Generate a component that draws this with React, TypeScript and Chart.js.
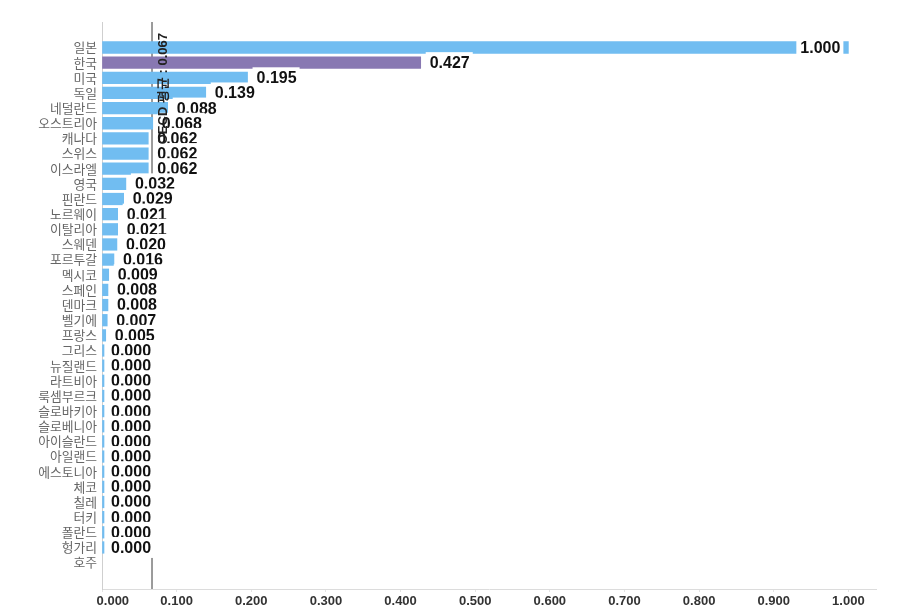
import React, { useEffect, useRef } from "react";
import { Chart, registerables } from "chart.js";

Chart.register(...registerables);

const categories: string[] = [
  "일본", "한국", "미국", "독일", "네덜란드", "오스트리아", "캐나다", "스위스", "이스라엘",
  "영국", "핀란드", "노르웨이", "이탈리아", "스웨덴", "포르투갈", "멕시코", "스페인", "덴마크",
  "벨기에", "프랑스", "그리스", "뉴질랜드", "라트비아", "룩셈부르크", "슬로바키아", "슬로베니아",
  "아이슬란드", "아일랜드", "에스토니아", "체코", "칠레", "터키", "폴란드", "헝가리", "호주",
];

const values: (number | null)[] = [
  1.0, 0.427, 0.195, 0.139, 0.088, 0.068, 0.062, 0.062, 0.062,
  0.032, 0.029, 0.021, 0.021, 0.02, 0.016, 0.009, 0.008, 0.008,
  0.007, 0.005, 0, 0, 0, 0, 0, 0,
  0, 0, 0, 0, 0, 0, 0, 0, null,
];

const xTicks: number[] = [0, 0.1, 0.2, 0.3, 0.4, 0.5, 0.6, 0.7, 0.8, 0.9, 1.0];

const oecdAverage = 0.067;
const oecdLabel = "OECD 평균 : 0.067";
const highlight = "한국";

const BLUE = "#71bdf1";
const PURPLE = "#8878b2";

const Y_MIN = -1.683;
const Y_MAX = 35.742;
const X_MAX = 1.037;

const overlayPlugin = {
  id: "overlay",
  beforeDatasetsDraw(chart: any) {
    const { ctx, chartArea, scales } = chart;
    const x = scales.x.getPixelForValue(oecdAverage);
    ctx.save();
    ctx.strokeStyle = "#7a7a7a";
    ctx.lineWidth = 1.5;
    ctx.beginPath();
    ctx.moveTo(x, chartArea.top);
    ctx.lineTo(x, chartArea.bottom);
    ctx.stroke();
    ctx.restore();
  },
  afterDatasetsDraw(chart: any) {
    const { ctx, chartArea, scales } = chart;
    const meta = chart.getDatasetMeta(0);
    ctx.save();
    ctx.font = "bold 16px 'Liberation Sans', Arial, sans-serif";
    ctx.textBaseline = "middle";
    ctx.textAlign = "left";
    meta.data.forEach((bar: any, i: number) => {
      const v = values[i];
      if (v === null || v === undefined) return;
      const text = v.toFixed(3);
      const w = ctx.measureText(text).width;
      const end = scales.x.getPixelForValue(v);
      let tx = end + 9;
      if (tx + w > chartArea.right) tx = end - 8 - w;
      const y = bar.y;
      ctx.fillStyle = "#ffffff";
      ctx.fillRect(tx - 4, y - 10.5, w + 7, 21);
      ctx.fillStyle = "#111111";
      ctx.fillText(text, tx, y + 1);
    });
    // OECD label
    const lx = scales.x.getPixelForValue(oecdAverage) + 11;
    ctx.translate(lx, chartArea.top + 11);
    ctx.rotate(-Math.PI / 2);
    ctx.font = "bold 13px 'Liberation Sans', Arial, sans-serif";
    ctx.textAlign = "right";
    ctx.textBaseline = "middle";
    ctx.fillStyle = "#222222";
    ctx.fillText(oecdLabel, 0, 0);
    ctx.restore();
  },
};

export default function App() {
  const canvasRef = useRef<HTMLCanvasElement | null>(null);

  useEffect(() => {
    document.body.style.margin = "0";
    const canvas = canvasRef.current;
    if (!canvas) return;
    const chart = new Chart(canvas, {
      type: "bar",
      data: {
        datasets: [
          {
            data: values.map((v, i) => ({ x: v, y: i })) as any,
            backgroundColor: categories.map((c) => (c === highlight ? PURPLE : BLUE)),
            borderWidth: 0,
            barThickness: 11.6,
            minBarLength: 2,
          },
        ],
      },
      options: {
        indexAxis: "y",
        animation: false,
        responsive: true,
        maintainAspectRatio: false,
        layout: { padding: { top: 22, right: 35, bottom: 0, left: 0 } },
        plugins: { legend: { display: false }, tooltip: { enabled: false } },
        scales: {
          x: {
            type: "linear",
            bounds: "data",
            offset: false,
            min: 0,
            max: X_MAX,
            afterBuildTicks: (scale: any) => {
              scale.ticks = xTicks.map((t) => ({ value: t }));
              scale.min = 0;
              scale.max = X_MAX;
            },
            afterFit: (scale: any) => {
              scale.height = 26;
            },
            grid: { display: true, offset: false, drawOnChartArea: false, drawTicks: true, tickLength: 3, color: "#e4e4e4" },
            border: { display: true, color: "#dcdcdc", width: 1 },
            ticks: {
              autoSkip: false,
              maxRotation: 0,
              padding: 2,
              color: "#333333",
              font: { family: "'Liberation Sans', Arial, sans-serif", size: 13, weight: "bold" },
              callback: (value: any) => {
                const s = Number(value).toFixed(3);
                return Number(value) === 0 ? "      " + s : s;
              },
            },
          },
          y: {
            type: "linear",
            bounds: "data",
            offset: false,
            reverse: true,
            min: Y_MIN,
            max: Y_MAX,
            afterBuildTicks: (scale: any) => {
              scale.ticks = categories.map((_, i) => ({ value: i }));
              scale.min = Y_MIN;
              scale.max = Y_MAX;
            },
            afterFit: (scale: any) => {
              scale.width = 102;
            },
            grid: { display: false, offset: false, drawTicks: false, tickLength: 0 },
            border: { display: true, color: "#cfcfcf", width: 1 },
            ticks: {
              autoSkip: false,
              padding: 5,
              color: "#666666",
              font: { family: "'Noto Sans CJK KR', sans-serif", size: 12.8 },
              callback: (value: any) => categories[Number(value)] ?? "",
            },
          },
        },
      },
      plugins: [overlayPlugin],
    });
    return () => chart.destroy();
  }, []);

  return (
    <div style={{ position: "relative", width: "911px", height: "615px" }}>
      <canvas ref={canvasRef} />
    </div>
  );
}
